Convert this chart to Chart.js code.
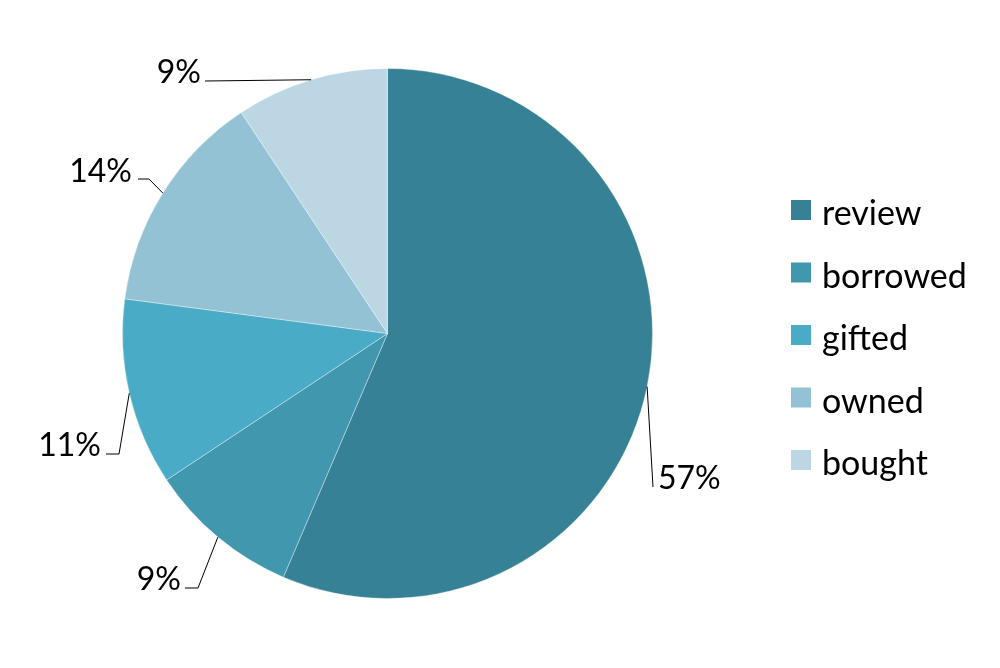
<!DOCTYPE html>
<html>
<head>
<meta charset="utf-8">
<script src="https://cdn.jsdelivr.net/npm/chart.js@4"></script>
<style>
  html, body { margin: 0; padding: 0; background: #fff; }
  canvas { display: block; }
</style>
</head>
<body>
<canvas id="pieChart" width="1000" height="668"></canvas>
<script>
const categories = ["review", "borrowed", "gifted", "owned", "bought"];
const shares = [56.4, 9.25, 11.4, 13.6, 9.3];
const percentLabels = ["57%", "9%", "11%", "14%", "9%"];
const colors = ["#378196", "#4097ae", "#4aabc6", "#93c2d4", "#bcd7e3"];

// where each label sits and how its leader line bends
const labelSpots = [
    { elbow: null, end: [653, 487], text: [658, 489], align: "left" },
    { elbow: [198, 588], end: [185, 588], text: [181, 590], align: "right" },
    { elbow: [119, 454], end: [106, 454], text: [101, 456], align: "right" },
    { elbow: [149, 179], end: [138, 179], text: [132, 182], align: "right" },
    { elbow: null, end: [205, 81], text: [201, 83], align: "right" }
];

const LABEL_FONT = "32px Lato";
const LEGEND_FONT = "34px Lato";

const leaderLabels = {
    id: "leaderLabels",
    afterDatasetsDraw(chart) {
        const ctx = chart.ctx;
        const arcs = chart.getDatasetMeta(0).data;
        ctx.save();
        ctx.strokeStyle = "#000";
        ctx.lineWidth = 1;
        ctx.fillStyle = "#000";
        ctx.font = LABEL_FONT;
        ctx.textBaseline = "alphabetic";
        arcs.forEach((arc, i) => {
            const p = arc.getProps(["x", "y", "startAngle", "endAngle", "outerRadius"], true);
            const mid = (p.startAngle + p.endAngle) / 2;
            const ax = p.x + Math.cos(mid) * p.outerRadius;
            const ay = p.y + Math.sin(mid) * p.outerRadius;
            const spot = labelSpots[i];
            ctx.beginPath();
            ctx.moveTo(ax, ay);
            if (spot.elbow) ctx.lineTo(spot.elbow[0], spot.elbow[1]);
            ctx.lineTo(spot.end[0], spot.end[1]);
            ctx.stroke();
            ctx.textAlign = spot.align;
            ctx.fillText(percentLabels[i], spot.text[0], spot.text[1]);
        });

        // legend on the right
        ctx.textAlign = "left";
        ctx.font = LEGEND_FONT;
        categories.forEach((name, i) => {
            const top = 200 + i * 62.5;
            ctx.fillStyle = colors[i];
            ctx.fillRect(791, top, 20, 20);
            ctx.fillStyle = "#000";
            ctx.fillText(name, 822, top + 25);
        });
        ctx.restore();
    }
};

new Chart(document.getElementById("pieChart").getContext("2d"), {
    type: "pie",
    data: {
        labels: categories,
        datasets: [{
            data: shares,
            backgroundColor: colors,
            borderColor: "rgba(255,255,255,0.35)",
            borderWidth: 1,
            hoverOffset: 0
        }]
    },
    options: {
        responsive: false,
        animation: false,
        layout: { padding: { left: 122, right: 347, top: 68, bottom: 69 } },
        plugins: {
            legend: { display: false },
            tooltip: { enabled: false }
        }
    },
    plugins: [leaderLabels]
});
</script>
</body>
</html>
